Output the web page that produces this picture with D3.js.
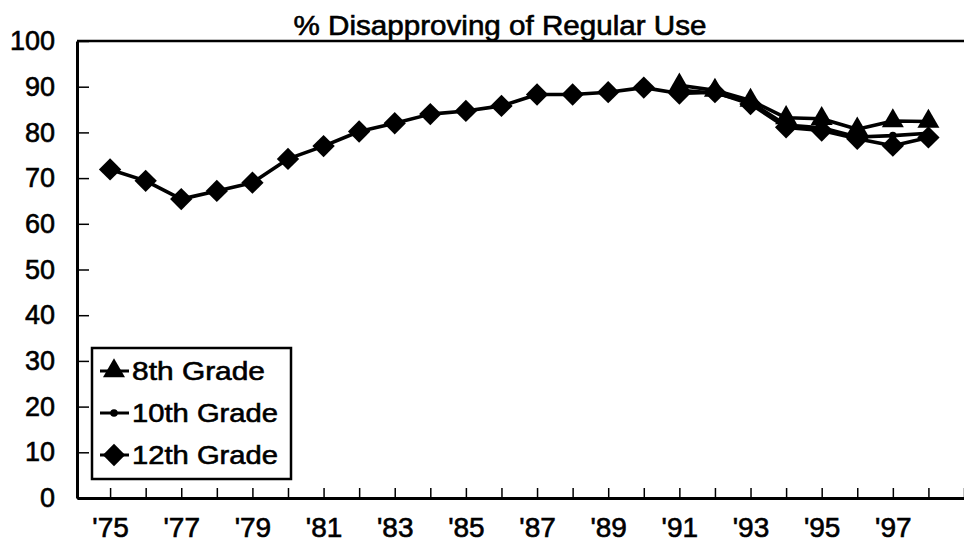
<!DOCTYPE html>
<html>
<head>
<meta charset="utf-8">
<script src="https://cdn.jsdelivr.net/npm/d3@7"></script>
<style>
  body { margin: 0; background: #fff; }
  svg { display: block; font-family: "Liberation Sans", Arial, sans-serif; }
  text { fill: #000; stroke: #000; stroke-width: 0.6px; }
</style>
</head>
<body>
<svg id="chart" width="964" height="555"></svg>
<script>
const years = [1975, 1976, 1977, 1978, 1979, 1980, 1981, 1982, 1983, 1984, 1985, 1986,
               1987, 1988, 1989, 1990, 1991, 1992, 1993, 1994, 1995, 1996, 1997, 1998];
const grade8Years = [1991, 1992, 1993, 1994, 1995, 1996, 1997, 1998];
const grade8 = [90.3, 89.2, 87.0, 83.2, 83.0, 80.7, 82.5, 82.4];
const grade10Years = [1991, 1992, 1993, 1994, 1995, 1996, 1997, 1998];
const grade10 = [89.2, 88.6, 86.6, 81.6, 81.0, 79.0, 79.3, 79.8];
const grade12 = [71.9, 69.4, 65.4, 67.2, 69.0, 74.2, 77.0, 80.2, 82.0, 84.0, 84.7, 85.8,
                 88.3, 88.3, 88.8, 89.8, 88.5, 88.8, 86.2, 81.1, 80.4, 78.6, 77.1, 78.9];
const yTicks = [0, 10, 20, 30, 40, 50, 60, 70, 80, 90, 100];
const xTickYears = [1975, 1976, 1977, 1978, 1979, 1980, 1981, 1982, 1983, 1984, 1985, 1986,
                    1987, 1988, 1989, 1990, 1991, 1992, 1993, 1994, 1995, 1996, 1997, 1998, 1999];
const xLabels = ["'75", "'77", "'79", "'81", "'83", "'85", "'87", "'89", "'91", "'93", "'95", "'97"];
const legendLabels = ["8th Grade", "10th Grade", "12th Grade"];
const title = "% Disapproving of Regular Use";

const svg = d3.select('#chart');

// plot area in page pixels
const plotLeft = 77, plotRight = 964, plotTop = 41, plotBottom = 498;

const x = d3.scaleLinear().domain([1974.07, 1999]).range([plotLeft, plotRight]);
const y = d3.scaleLinear().domain([0, 100]).range([plotBottom, plotTop]);

const series = [
  { name: legendLabels[0], data: grade8Years.map((yr, i) => ({ year: yr, v: grade8[i] })), marker: 'tri' },
  { name: legendLabels[1], data: grade10Years.map((yr, i) => ({ year: yr, v: grade10[i] })), marker: 'dot' },
  { name: legendLabels[2], data: years.map((yr, i) => ({ year: yr, v: grade12[i] })), marker: 'dia' }
];

// title
svg.append('text')
  .attr('x', 500)
  .attr('y', 35)
  .attr('text-anchor', 'middle')
  .style('font-size', '27px')
  .attr('textLength', 413)
  .attr('lengthAdjust', 'spacingAndGlyphs')
  .text(title);

// top border
svg.append('line')
  .attr('x1', plotLeft).attr('x2', plotRight)
  .attr('y1', plotTop).attr('y2', plotTop)
  .attr('stroke', '#000').attr('stroke-width', 2.5);

// y axis
const yAxis = svg.append('g')
  .attr('transform', `translate(${plotLeft},0)`)
  .call(d3.axisLeft(y).tickValues(yTicks).tickSizeInner(-12).tickSizeOuter(0).tickPadding(22));
yAxis.select('.domain').attr('stroke-width', 3);
yAxis.selectAll('.tick line').attr('stroke-width', 1.5);
yAxis.selectAll('.tick text').style('font-size', '27px');
yAxis.attr('font-family', null).attr('font-size', null);

// x axis
const labelMap = new Map(xLabels.map((l, i) => [1975 + 2 * i, l]));
const xAxis = svg.append('g')
  .attr('transform', `translate(0,${plotBottom})`)
  .call(d3.axisBottom(x).tickValues(xTickYears).tickSizeInner(-10).tickSizeOuter(0).tickPadding(19)
    .tickFormat(d => labelMap.get(d) || ''));
xAxis.select('.domain').attr('stroke-width', 3);
xAxis.selectAll('.tick line').attr('stroke-width', 1.5);
xAxis.selectAll('.tick text').style('font-size', '28px');
xAxis.attr('font-family', null).attr('font-size', null);

// lines
const line = d3.line().x(d => x(d.year)).y(d => y(d.v));
series.forEach(s => {
  svg.append('path')
    .datum(s.data)
    .attr('fill', 'none')
    .attr('stroke', '#000')
    .attr('stroke-width', 3.6)
    .attr('stroke-linejoin', 'round')
    .attr('d', line);
});

const triPath = d3.symbol(d3.symbolTriangle, 210)();
const diaPath = d3.symbol(d3.symbolSquare, 250)();

function drawMarker(g, kind, cx, cy) {
  if (kind === 'tri') {
    g.append('path').attr('d', triPath).attr('transform', `translate(${cx},${cy})`).attr('fill', '#000');
  } else if (kind === 'dia') {
    g.append('path').attr('d', diaPath).attr('transform', `translate(${cx},${cy}) rotate(45)`).attr('fill', '#000');
  } else {
    g.append('circle').attr('cx', cx).attr('cy', cy).attr('r', 3.8).attr('fill', '#000');
  }
}

// markers
series.forEach(s => {
  const g = svg.append('g');
  s.data.forEach(d => drawMarker(g, s.marker, x(d.year), y(d.v)));
});

// legend
const legend = svg.append('g');
legend.append('rect')
  .attr('x', 92).attr('y', 348)
  .attr('width', 199).attr('height', 131)
  .attr('fill', '#fff')
  .attr('stroke', '#000').attr('stroke-width', 2.5);

const rowY = [371, 413, 455];
const textLen = [133, 146, 146];
series.forEach((s, i) => {
  const cy = rowY[i];
  legend.append('line')
    .attr('x1', 100).attr('x2', 129)
    .attr('y1', cy).attr('y2', cy)
    .attr('stroke', '#000').attr('stroke-width', 3);
  drawMarker(legend, s.marker, 114, cy);
  legend.append('text')
    .attr('x', 132)
    .attr('y', cy)
    .attr('dy', '0.36em')
    .style('font-size', '26px')
    .attr('textLength', textLen[i])
    .attr('lengthAdjust', 'spacingAndGlyphs')
    .text(s.name);
});
</script>
</body>
</html>
